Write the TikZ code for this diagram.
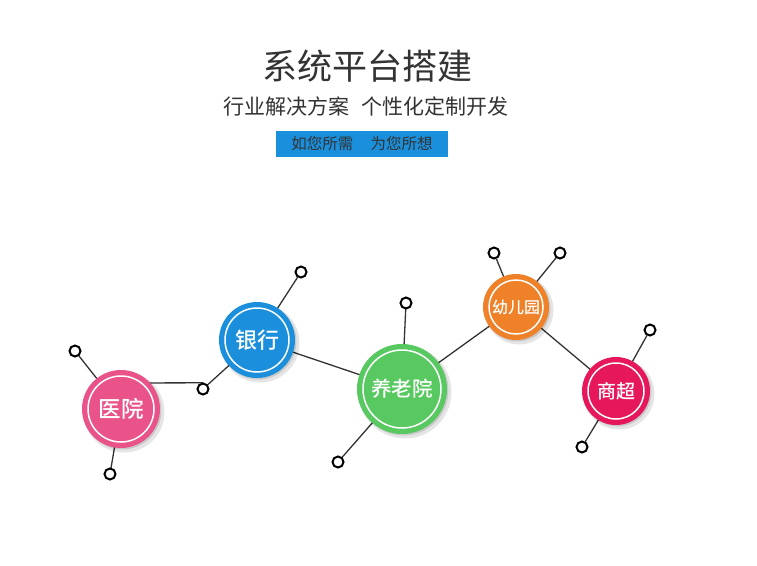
\documentclass[tikz,border=0pt]{standalone}
\usepackage{fontspec}
\newfontfamily\cjk{Noto Sans CJK SC}
\newfontfamily\cjkb{Noto Sans CJK SC Medium}
\usetikzlibrary{calc}
\definecolor{txtdark}{HTML}{333333}
\definecolor{barblue}{HTML}{1A8FDC}
\definecolor{cpink}{HTML}{E9538A}
\definecolor{cblue}{HTML}{1B8FDB}
\definecolor{cgreen}{HTML}{58C860}
\definecolor{corange}{HTML}{EF8128}
\definecolor{ccrimson}{HTML}{E6175B}
\definecolor{linegray}{HTML}{333333}
\tikzset{
  hub/.style={circle, minimum size=#1, inner sep=0pt, text=white, font=\cjk},
  sat/.style={circle, minimum size=12pt, inner sep=0pt},
  link/.style={draw=linegray, line width=1.3pt},
}
\newcommand{\hubdraw}[5]{%
  \fill[black, opacity=0.10] ($#2+(3,3)$) circle (#3+1.5);
  \fill[black, opacity=0.12] ($#2+(1.5,1.5)$) circle (#3);
  \node[hub=2*#3 pt, fill=#4] (#1) at #2 {};
  \draw[white, line width=1.5pt] #2 circle (#3-6);
  \node[text=white] at #2 {#5};
}
\begin{document}
\begin{tikzpicture}[x=1pt, y=-1pt]
\useasboundingbox (0,0) rectangle (757,565);
\fill[white] (0,0) rectangle (757,565);

% titles
\node[font=\cjk\fontsize{35}{37}\selectfont, text=txtdark] (title) at (367,66) {系统平台搭建};
\node[font=\cjk\fontsize{21}{23}\selectfont, text=txtdark] (sub) at (366,106) {行业解决方案\hspace{0.6em}个性化定制开发};
\node[fill=barblue, minimum width=172pt, minimum height=26pt, inner sep=0pt,
      font=\cjk\fontsize{15.5}{17}\selectfont, text=txtdark] (bar) at (362,144) {如您所需\hspace{1.1em}为您所想};

% hub centres
\coordinate (pA) at (121,409);
\coordinate (pB) at (257,340);
\coordinate (pC) at (402,389);
\coordinate (pD) at (516,307);
\coordinate (pE) at (616,391);

% satellites
\node[sat] (sA1) at (75,351) {};
\node[sat] (sA2) at (110,474) {};
\node[sat] (sAB) at (203,389) {};
\node[sat] (sB1) at (301,272) {};
\node[sat] (sC1) at (406,303) {};
\node[sat] (sC2) at (338,462) {};
\node[sat] (sD1) at (494,253) {};
\node[sat] (sD2) at (560,253) {};
\node[sat] (sE1) at (650,330) {};
\node[sat] (sE2) at (582,447) {};

% connectors
\draw[link] (pA) -- (sA1);
\draw[link] (pA) -- (sA2);
\draw[link] (121,383) -- (sAB.north);
\draw[link] (sAB) -- (pB);
\draw[link] (pB) -- (sB1);
\draw[link] (pB) -- (pC);
\draw[link] (pC) -- (sC1);
\draw[link] (pC) -- (sC2);
\draw[link] (pC) -- (pD);
\draw[link] (pD) -- (sD1);
\draw[link] (pD) -- (sD2);
\draw[link] (pD) -- (pE);
\draw[link] (pE) -- (sE1);
\draw[link] (pE) -- (sE2);

% satellite rings
\foreach \s in {sA1,sA2,sAB,sB1,sC1,sC2,sD1,sD2,sE1,sE2}{
  \fill[white] (\s) circle (5.5pt);
  \draw[black, line width=2pt] (\s) circle (5.5pt);
}

% hubs
\hubdraw{hA}{(pA)}{39}{cpink}{\cjkb\fontsize{22.5}{24}\selectfont 医院}
\hubdraw{hB}{(pB)}{38}{cblue}{\cjkb\fontsize{22}{24}\selectfont 银行}
\hubdraw{hC}{(pC)}{45}{cgreen}{\cjkb\fontsize{20.5}{22}\selectfont 养老院}
\hubdraw{hD}{(pD)}{33}{corange}{\cjkb\fontsize{16}{18}\selectfont 幼儿园}
\hubdraw{hE}{(pE)}{34}{ccrimson}{\cjkb\fontsize{19}{21}\selectfont 商超}
\end{tikzpicture}
\end{document}
